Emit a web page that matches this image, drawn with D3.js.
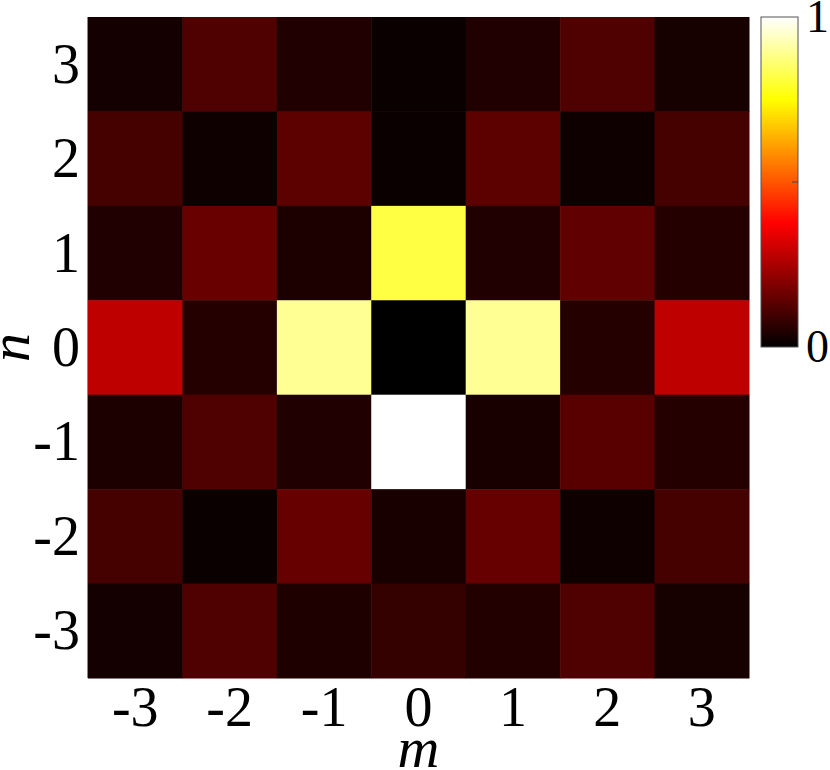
<!DOCTYPE html>
<html>
<head>
<meta charset="utf-8">
<script src="https://cdn.jsdelivr.net/npm/d3@7"></script>
<style>
  body { margin: 0; background: #fff; }
  svg text { font-family: "Liberation Serif", "DejaVu Serif", serif; fill: #000; }
</style>
</head>
<body>
<div id="chart"></div>
<script>
// m along x, n along y
var mValues = [-3, -2, -1, 0, 1, 2, 3];
var nValues = [3, 2, 1, 0, -1, -2, -3];

// intensity rows, top (n=3) to bottom (n=-3), columns m=-3..3
var row_n3  = [0.029, 0.116, 0.047, 0.015, 0.047, 0.116, 0.032];
var row_n2  = [0.101, 0.022, 0.135, 0.015, 0.135, 0.022, 0.101];
var row_n1  = [0.047, 0.153, 0.041, 0.817, 0.047, 0.141, 0.054];
var row_n0  = [0.281, 0.054, 0.895, 0.000, 0.895, 0.054, 0.281];
var row_nm1 = [0.041, 0.116, 0.047, 1.000, 0.035, 0.129, 0.053];
var row_nm2 = [0.101, 0.015, 0.150, 0.035, 0.150, 0.022, 0.101];
var row_nm3 = [0.029, 0.116, 0.044, 0.078, 0.050, 0.116, 0.032];

var rows = [row_n3, row_n2, row_n1, row_n0, row_nm1, row_nm2, row_nm3];

var cbTicks = [0, 1];

// matlab "hot" colormap
function hot(v) {
  var r = Math.max(0, Math.min(1, v / 0.375));
  var g = Math.max(0, Math.min(1, (v - 0.375) / 0.375));
  var b = Math.max(0, Math.min(1, (v - 0.75) / 0.25));
  return d3.rgb(r * 255, g * 255, b * 255).toString();
}

var width = 830, height = 770;
var plotLeft = 88, plotRight = 749, plotTop = 17, plotBottom = 678;

var svg = d3.select("#chart").append("svg")
  .attr("width", width)
  .attr("height", height);

var x = d3.scaleBand().domain(mValues).range([plotLeft, plotRight]);
var y = d3.scaleBand().domain(nValues).range([plotTop, plotBottom]);

var cells = [];
rows.forEach(function(row, i) {
  row.forEach(function(v, j) {
    cells.push({ m: mValues[j], n: nValues[i], v: v });
  });
});

svg.selectAll("rect.cell")
  .data(cells)
  .enter()
  .append("rect")
    .attr("class", "cell")
    .attr("x", function(d) { return x(d.m); })
    .attr("y", function(d) { return y(d.n); })
    .attr("width", x.bandwidth() + 0.5)
    .attr("height", y.bandwidth() + 0.5)
    .attr("fill", function(d) { return hot(d.v); });

// faint axis edge on the left
svg.append("line")
  .attr("x1", plotLeft - 0.5).attr("x2", plotLeft - 0.5)
  .attr("y1", plotTop).attr("y2", plotBottom)
  .attr("stroke", "#888").attr("stroke-width", 1);

// axes, no tick marks visible
var xAxis = svg.append("g")
  .attr("transform", "translate(0," + plotBottom + ")")
  .call(d3.axisBottom(x).tickSize(0).tickPadding(48));
xAxis.select(".domain").remove();
xAxis.selectAll("text")
  .attr("dy", 0)
  .style("font-size", "56px");
xAxis.attr("font-family", null).attr("font-size", null);

var yAxis = svg.append("g")
  .attr("transform", "translate(" + plotLeft + ",0)")
  .call(d3.axisLeft(y).tickSize(0).tickPadding(8));
yAxis.select(".domain").remove();
yAxis.selectAll("text")
  .attr("dy", "0.33em")
  .style("font-size", "56px");
yAxis.attr("font-family", null).attr("font-size", null);

svg.append("text")
  .attr("x", (plotLeft + plotRight) / 2)
  .attr("y", 767)
  .attr("text-anchor", "middle")
  .style("font-size", "58px")
  .style("font-style", "italic")
  .text("m");

svg.append("text")
  .attr("transform", "translate(29," + ((plotTop + plotBottom) / 2) + ") rotate(-90)")
  .attr("text-anchor", "middle")
  .style("font-size", "58px")
  .style("font-style", "italic")
  .text("n");

// colorbar
var cbX = 761, cbW = 37, cbTop = 17, cbBottom = 347;
var cbScale = d3.scaleLinear().domain([0, 1]).range([cbBottom, cbTop]);

var defs = svg.append("defs");
var grad = defs.append("linearGradient")
  .attr("id", "hotgrad")
  .attr("x1", 0).attr("y1", 1).attr("x2", 0).attr("y2", 0);
d3.range(0, 1.0001, 0.025).forEach(function(t) {
  grad.append("stop")
    .attr("offset", t)
    .attr("stop-color", hot(t));
});

svg.append("rect")
  .attr("x", cbX)
  .attr("y", cbTop)
  .attr("width", cbW)
  .attr("height", cbBottom - cbTop)
  .attr("fill", "url(#hotgrad)")
  .attr("stroke", "#555")
  .attr("stroke-width", 1);

// small inward tick at 0.5 on the right edge
svg.append("line")
  .attr("x1", cbX + cbW - 6).attr("x2", cbX + cbW)
  .attr("y1", cbScale(0.5)).attr("y2", cbScale(0.5))
  .attr("stroke", "#444").attr("stroke-width", 1);

svg.selectAll("text.cbtick")
  .data(cbTicks)
  .enter()
  .append("text")
    .attr("class", "cbtick")
    .attr("x", cbX + cbW + 8)
    .attr("y", function(d) { return cbScale(d); })
    .attr("dy", "0.33em")
    .style("font-size", "46px")
    .text(function(d) { return d; });
</script>
</body>
</html>
